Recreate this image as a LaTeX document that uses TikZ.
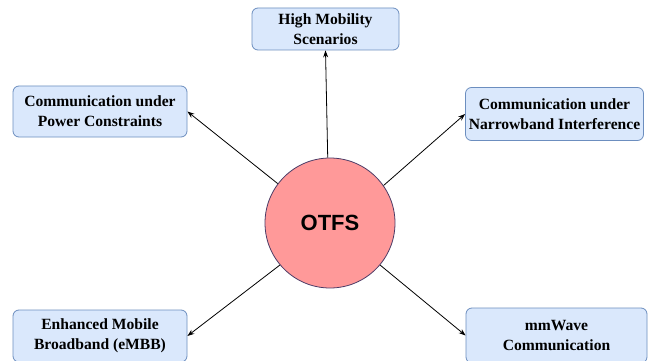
\documentclass[tikz,border=0pt]{standalone}
\usepackage{fontspec}
\setmainfont{Liberation Serif}
\newfontfamily\arialfont{Liberation Sans}
\usetikzlibrary{arrows.meta}
\definecolor{boxfill}{HTML}{DAE8FC}
\definecolor{boxline}{HTML}{6C8EBF}
\definecolor{circfill}{HTML}{FF9999}
\definecolor{circline}{HTML}{4A3B66}
\begin{document}
\begin{tikzpicture}[x=1pt,y=-1pt,
  appbox/.style={draw=boxline, fill=boxfill, rounded corners=6pt, line width=0.8pt,
    align=center, font=\bfseries\fontsize{15.6}{20}\selectfont, inner sep=0pt},
  link/.style={-{Stealth[length=7pt,width=5pt]}, line width=0.8pt, black}]
\clip (0,0) rectangle (656,361);
\fill[white] (0,0) rectangle (656,361);
\node[draw=circline, fill=circfill, circle, minimum size=130pt, line width=0.8pt,
  font=\arialfont\bfseries\fontsize{22}{26}\selectfont] (otfs) at (330,223) {OTFS};
\node[appbox, minimum width=147pt, minimum height=42pt] (high) at (325.5,29) {High Mobility\\Scenarios};
\node[appbox, minimum width=174pt, minimum height=51pt] (power) at (100,111.5) {Communication under\\Power Constraints};
\node[appbox, minimum width=178pt, minimum height=53pt] (narrow) at (554.5,114) {Communication under\\Narrowband Interference};
\node[appbox, minimum width=174pt, minimum height=52pt] (embb) at (100,336) {Enhanced Mobile\\Broadband (eMBB)};
\node[appbox, minimum width=181pt, minimum height=55pt] (mmw) at (556.5,335.5) {mmWave\\Communication};
\draw[link] (otfs.92) -- (high.south);
\draw[link] (otfs.143) -- (power.east);
\draw[link] (otfs.35) -- (narrow.west);
\draw[link] (otfs.-140) -- (embb.east);
\draw[link] (otfs.-40) -- (mmw.west);
\end{tikzpicture}
\end{document}
